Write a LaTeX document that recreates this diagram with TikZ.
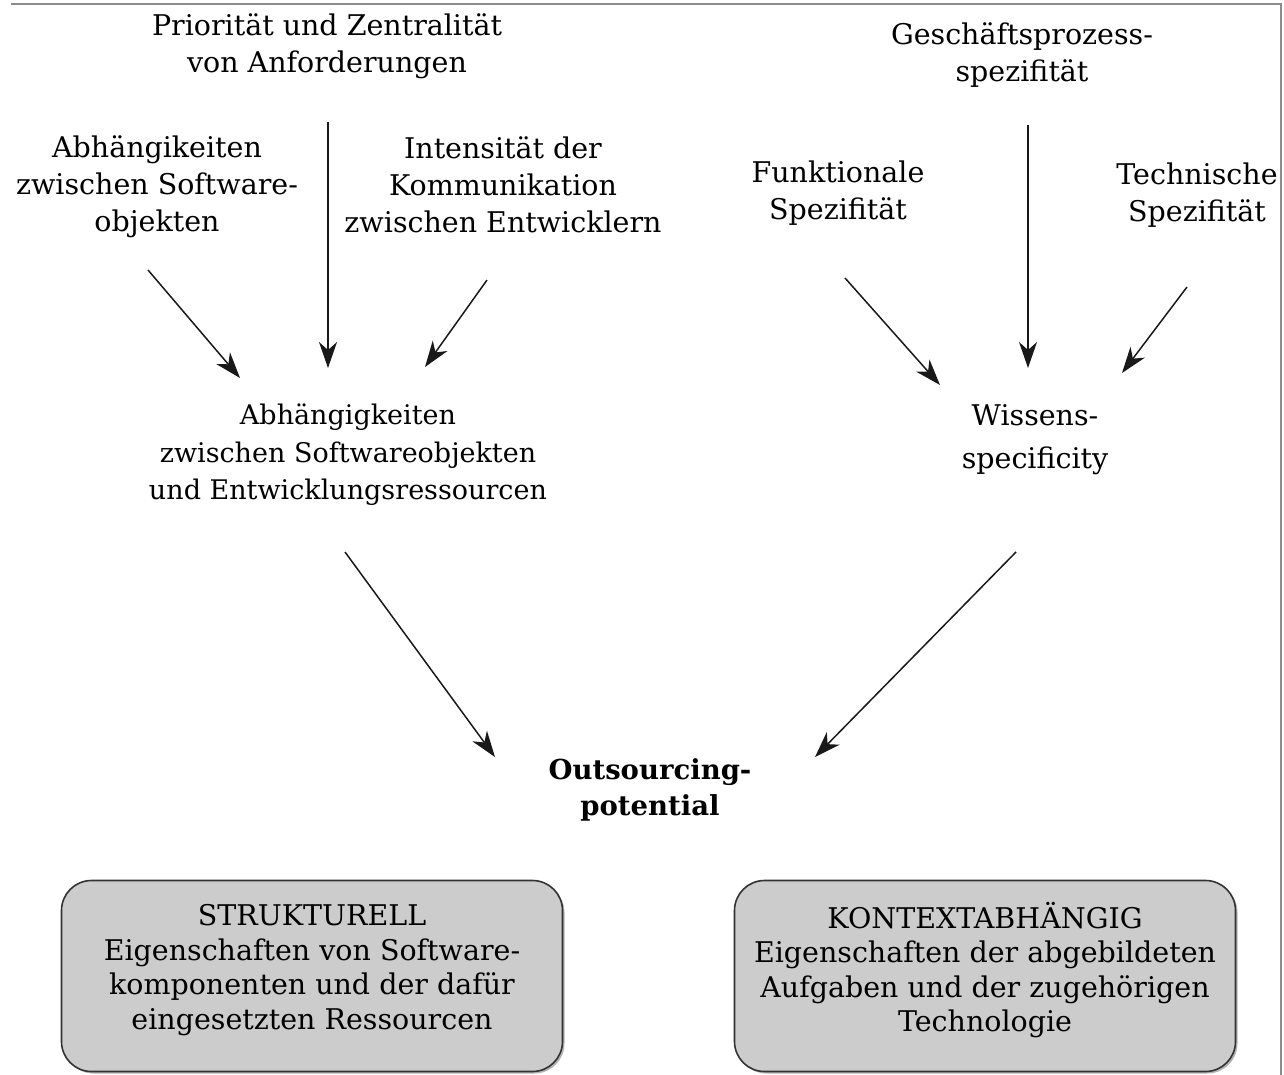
\documentclass[tikz,border=0pt]{standalone}
\usepackage{fontspec}
\setmainfont{DejaVu Serif}
\usetikzlibrary{arrows.meta,shadows}
\begin{document}
\begin{tikzpicture}[x=1pt,y=-1pt,
  lbl/.style={align=center,inner sep=0pt,font=\fontsize{28.5}{37}\selectfont},
  boxlbl/.style={align=center,inner sep=0pt,font=\fontsize{28.5}{34.5}\selectfont},
  arr/.style={-{Stealth[length=26pt,width=18pt,inset=8pt]},line width=1.5pt,black!90},
  catbox/.style={draw=black!80,line width=1.6pt,fill=black!20,rounded corners=30pt,
    minimum width=501pt,minimum height=191pt,
    drop shadow={shadow xshift=2pt,shadow yshift=-2pt,fill=black!50,opacity=0.6}},
  frameline/.style={draw=black!45,line width=2pt}]
\useasboundingbox (0,0) rectangle (1284,1075);
\coordinate (fa) at (11,4);
\coordinate (fb) at (1281,4);
\coordinate (fc) at (1281,1075);
\draw[frameline] (fa) -- (fb) -- (fc);

\node[lbl] (prio) at (327,46) {Priorität und Zentralität\\von Anforderungen};
\node[lbl] (abhsw) at (157,187) {Abhängikeiten\\zwischen Software-\\objekten};
\node[lbl] (intens) at (503,185) {Intensität der\\Kommunikation\\zwischen Entwicklern};
\node[lbl] (gesch) at (1022,55) {Geschäftsprozess-\\spezifität};
\node[lbl] (funk) at (838,193) {Funktionale\\Spezifität};
\node[lbl] (tech) at (1197,195) {Technische\\Spezifität};
\node[lbl,font=\fontsize{27}{37.5}\selectfont] (abhall) at (348,455) {Abhängigkeiten\\zwischen Softwareobjekten\\und Entwicklungsressourcen};
\node[lbl,font=\fontsize{28.5}{43}\selectfont] (wiss) at (1035,440) {Wissens-\\specificity};
\node[lbl,font=\bfseries\fontsize{27.5}{36}\selectfont] (outs) at (650,790) {Outsourcing-\\potential};

\node[catbox] (struk) at (312,976) {};
\node[boxlbl] (strukt) at (312,970) {STRUKTURELL\\Eigenschaften von Software-\\komponenten und der dafür\\eingesetzten Ressourcen};
\node[catbox] (kont) at (985,976) {};
\node[boxlbl] (kontt) at (985,970) {KONTEXTABHÄNGIG\\Eigenschaften der abgebildeten\\Aufgaben und der zugehörigen\\Technologie};

\coordinate (a1s) at (148,270); \coordinate (a1e) at (240,378);
\coordinate (a2s) at (328,122); \coordinate (a2e) at (328,368);
\coordinate (a3s) at (487,280); \coordinate (a3e) at (425,367);
\coordinate (a4s) at (845,278); \coordinate (a4e) at (940,385);
\coordinate (a5s) at (1028,125); \coordinate (a5e) at (1028,368);
\coordinate (a6s) at (1187,287); \coordinate (a6e) at (1122,373);
\coordinate (a7s) at (345,552); \coordinate (a7e) at (495,757);
\coordinate (a8s) at (1016,552); \coordinate (a8e) at (815,757);
\foreach \i in {1,...,8} \draw[arr] (a\i s) -- (a\i e);
\end{tikzpicture}
\end{document}
